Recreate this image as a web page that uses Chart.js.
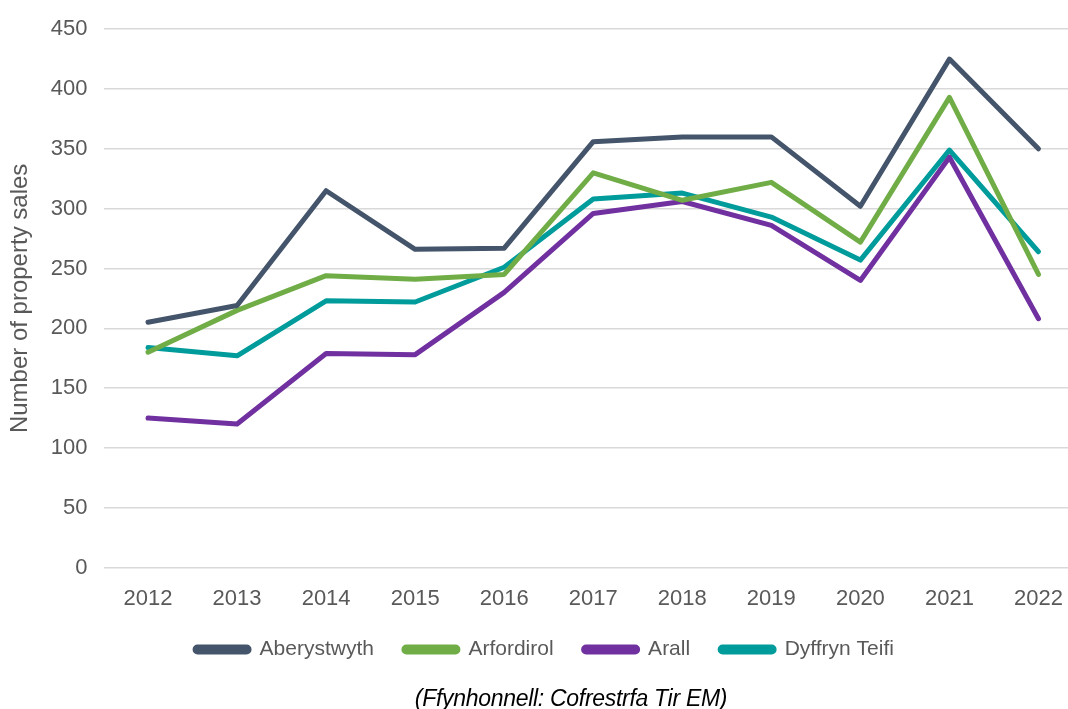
<!DOCTYPE html>
<html>
<head>
<meta charset="utf-8">
<script src="https://cdn.jsdelivr.net/npm/chart.js@4"></script>
<style>
  html, body { margin: 0; padding: 0; background: #fff; overflow: hidden; }
  #wrap { width: 1083px; height: 709px; position: relative; }
  #source {
    position: absolute; left: 0; top: 685px; width: 1142px;
    text-align: center; font-family: "Liberation Sans", sans-serif;
    font-size: 23px; font-style: italic; color: #000; letter-spacing: -0.3px;
  }
</style>
</head>
<body>
<div id="wrap">
  <canvas id="salesChart"></canvas>
  <div id="source">(Ffynhonnell: Cofrestrfa Tir EM)</div>
</div>
<script>
var years = ['2012', '2013', '2014', '2015', '2016', '2017', '2018', '2019', '2020', '2021', '2022'];
var aberystwyth = [205, 219, 315, 266, 267, 356, 360, 360, 302, 425, 350];
var arfordirol = [180, 215, 244, 241, 245, 330, 307, 322, 272, 393, 245];
var arall = [125, 120, 179, 178, 230, 296, 306, 286, 240, 343, 208];
var dyffrynTeifi = [184, 177, 223, 222, 251, 308, 313, 293, 257, 349, 264];

var grey = '#595959';
var font = '"Liberation Sans", sans-serif';

function series(label, values, colour) {
  return {
    label: label,
    data: values,
    borderColor: colour,
    backgroundColor: colour,
    borderWidth: 5,
    borderCapStyle: 'round',
    borderJoinStyle: 'round',
    pointRadius: 0,
    tension: 0
  };
}

var ctx = document.getElementById('salesChart').getContext('2d');

new Chart(ctx, {
  type: 'line',
  data: {
    labels: years,
    datasets: [
      series('Aberystwyth', aberystwyth, '#44546A'),
      series('Arfordirol', arfordirol, '#70AD47'),
      series('Arall', arall, '#7030A0'),
      series('Dyffryn Teifi', dyffrynTeifi, '#009B9B')
    ]
  },
  options: {
    responsive: true,
    maintainAspectRatio: false,
    animation: false,
    layout: { padding: { top: 6, left: 6, right: 0, bottom: 39 } },
    plugins: {
      tooltip: { enabled: false },
      legend: {
        position: 'bottom',
        labels: {
          color: grey,
          font: { family: font, size: 21 },
          boxWidth: 54,
          boxHeight: 5,
          useBorderRadius: true,
          borderRadius: 2.5,
          padding: 30
        }
      }
    },
    scales: {
      x: {
        offset: true,
        grid: { display: false },
        border: { display: false },
        ticks: { color: grey, font: { family: font, size: 22 }, padding: 10 },
        // pull the legend up closer to the year labels
        afterFit: function(scale) { scale.height -= 13; }
      },
      y: {
        min: 0,
        max: 450,
        ticks: { stepSize: 50, color: grey, font: { family: font, size: 22 }, padding: 16 },
        grid: { color: '#D9D9D9', lineWidth: 1.5, drawTicks: false },
        border: { display: false },
        title: {
          display: true,
          text: 'Number of property sales',
          color: grey,
          font: { family: font, size: 24 },
          padding: { top: 0, bottom: 0 }
        }
      }
    }
  }
});
</script>
</body>
</html>
